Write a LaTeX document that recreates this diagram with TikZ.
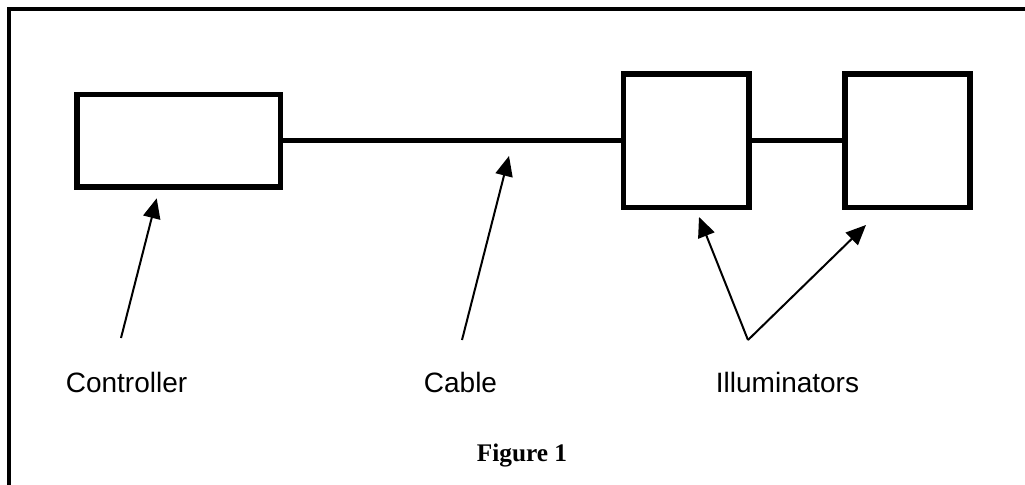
\documentclass[tikz,border=0pt]{standalone}
\usepackage{fontspec}
\setmainfont{Liberation Serif}
\newfontfamily\labelfont{Liberation Sans}
\usetikzlibrary{arrows.meta}
\begin{document}
\begin{tikzpicture}[x=0.75pt,y=-0.75pt,
  unitbox/.style={draw,line width=4.2pt,fill=white,inner sep=0pt,outer sep=0pt},
  wire/.style={line width=3.6pt},
  pointer/.style={line width=1.5pt,-{Triangle[length=15pt,width=13pt]}},
  lbl/.style={font=\labelfont\fontsize{21pt}{25pt}\selectfont,anchor=base,inner sep=0pt},
  caption/.style={font=\bfseries\fontsize{19pt}{23pt}\selectfont,anchor=base,inner sep=0pt}]
\useasboundingbox (0,0) rectangle (1025,485);
\clip (0,0) rectangle (1025,485);
\fill[white] (0,0) rectangle (1025,485);
\draw[line width=3pt] (9,500) -- (9,9.5) -- (1040,9.5);
\node[unitbox,minimum width=152.6pt,minimum height=69.4pt] (ctrl) at (178.75,140.75) {};
\node[unitbox,minimum width=94pt,minimum height=100pt] (ill1) at (686.35,140.75) {};
\node[unitbox,minimum width=93.75pt,minimum height=100pt] (ill2) at (907.5,140.75) {};
\draw[wire] (ctrl.east) -- (ill1.west);
\draw[wire] (ill1.east) -- (ill2.west);
\coordinate (ctrltail) at (121,338);
\coordinate (ctrltip) at (156.7,198.3);
\coordinate (cabletail) at (462,340);
\coordinate (cabletip) at (509,156);
\coordinate (illtail) at (748,340);
\coordinate (illtipa) at (699,217);
\coordinate (illtipb) at (866,225);
\draw[pointer] (ctrltail) -- (ctrltip);
\draw[pointer] (cabletail) -- (cabletip);
\draw[pointer] (illtail) -- (illtipa);
\draw[pointer] (illtail) -- (illtipb);
\node[lbl] (lctrl) at (126.5,392) {Controller};
\node[lbl] (lcable) at (460.5,392) {Cable};
\node[lbl] (lill) at (787.5,392) {Illuminators};
\node[caption] (fig) at (522,461) {Figure 1};
\end{tikzpicture}
\end{document}
